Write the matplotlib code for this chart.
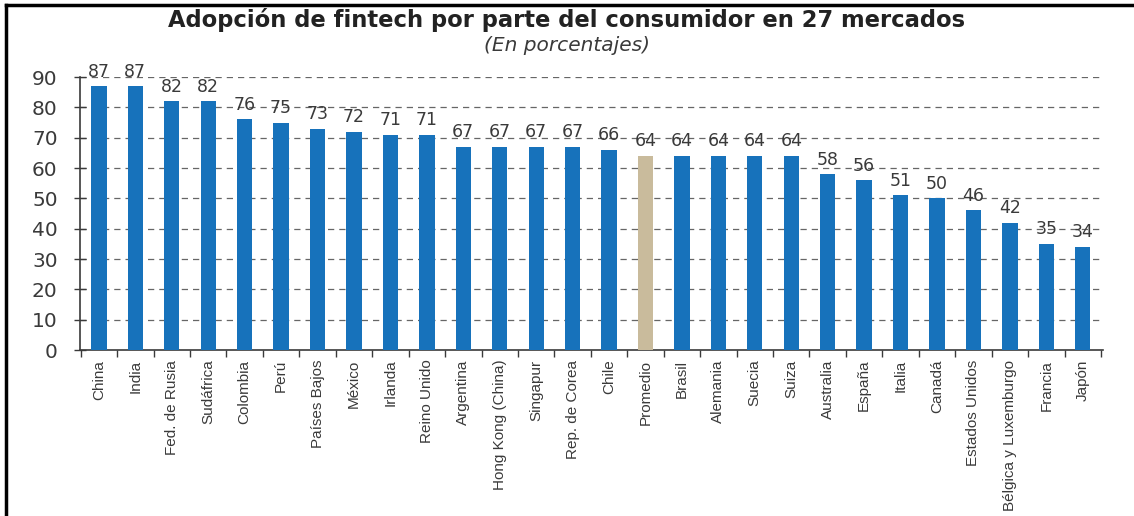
# bar chart: adopcion de fintech por mercado
import matplotlib.pyplot as plt
import numpy as np
from matplotlib.lines import Line2D

paises = [
    "China", "India", "Fed. de Rusia", "Sudáfrica", "Colombia", "Perú",
    "Países Bajos", "México", "Irlanda", "Reino Unido", "Argentina",
    "Hong Kong (China)", "Singapur", "Rep. de Corea", "Chile", "Promedio",
    "Brasil", "Alemania", "Suecia", "Suiza", "Australia", "España", "Italia",
    "Canadá", "Estados Unidos", "Bélgica y Luxemburgo", "Francia", "Japón",
]
valores = [87, 87, 82, 82, 76, 75, 73, 72, 71, 71, 67, 67, 67, 67, 66, 64,
           64, 64, 64, 64, 58, 56, 51, 50, 46, 42, 35, 34]

azul = "#1772bb"
tan = "#c9bb9c"
gris = "#3a3a3a"

fig = plt.figure(figsize=(11.34, 5.16), dpi=100)
ax = fig.add_axes([0.0705, 0.3217, 0.902, 0.529])

x = np.arange(len(paises))
colores = [tan if p == "Promedio" else azul for p in paises]
ax.bar(x, valores, width=0.42, color=colores, zorder=3)

for xi, v in zip(x, valores):
    ax.text(xi, v + 1.8, str(v), ha="center", va="bottom", fontsize=12.5,
            color=gris, family="DejaVu Sans")

ax.set_ylim(0, 90)
ax.set_xlim(-0.52, len(paises) - 0.45)
ax.set_yticks(range(0, 91, 10))
ax.set_yticklabels([str(t) for t in range(0, 91, 10)], fontsize=14.5,
                   color=gris, family="DejaVu Sans")
ax.tick_params(axis="y", direction="inout", length=8, width=1, color=gris, pad=12)

ax.set_xticks(x)
ax.set_xticklabels(paises, rotation=90, fontsize=11, color=gris,
                   family="Liberation Sans")
ax.tick_params(axis="x", length=0, pad=7)
# marcas entre barras
ax.set_xticks(np.arange(-0.5, len(paises), 1.0), minor=True)
ax.tick_params(axis="x", which="minor", direction="out", length=5, width=1, color=gris)

for y in range(10, 91, 10):
    ax.axhline(y, color="#666666", lw=0.9, ls=(0, (5, 4)), zorder=1)

for s in ["top", "right"]:
    ax.spines[s].set_visible(False)
ax.spines["left"].set_color(gris)
ax.spines["bottom"].set_color(gris)
ax.spines["left"].set_linewidth(1.2)
ax.spines["bottom"].set_linewidth(1.2)

fig.text(0.5, 0.962, "Adopción de fintech por parte del consumidor en 27 mercados",
         ha="center", va="center", fontsize=16.3, fontweight="bold", color="#222222",
         family="DejaVu Sans")
fig.text(0.5, 0.912, "(En porcentajes)", ha="center", va="center", fontsize=14.5,
         style="italic", color=gris, family="DejaVu Sans")

# marco
fig.add_artist(Line2D([0.005, 0.005], [0, 0.99], transform=fig.transFigure,
                      color="black", lw=2.5))
fig.add_artist(Line2D([0.005, 1.0], [0.99, 0.99], transform=fig.transFigure,
                      color="black", lw=2.5))

plt.savefig("out.png", dpi=100)
